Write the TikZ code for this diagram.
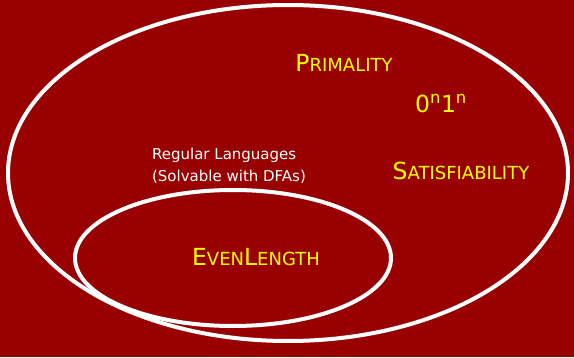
\documentclass[tikz,border=0pt]{standalone}
\usepackage{fontspec}
\setmainfont{DejaVu Sans}
\usetikzlibrary{shapes.geometric}
\definecolor{bgred}{HTML}{990000}
\definecolor{lang}{HTML}{FFFF00}
% fake small caps: large initial, smaller capitals after it
\newcommand{\capbig}[1]{{\fontsize{23.5}{26}\selectfont #1}}
\newcommand{\capsmall}[1]{{\fontsize{18}{20}\selectfont #1}}
\begin{document}
\begin{tikzpicture}[x=1pt,y=1pt,
  setline/.style={ellipse,draw=white,line width=4pt,inner sep=0pt,outer sep=0pt},
  langtext/.style={text=lang,inner sep=0pt},
  classtext/.style={text=white,align=left,inner sep=0pt,font=\fontsize{15}{22}\selectfont}]
  \fill[bgred] (0,0) rectangle (574,357);
  \useasboundingbox (0,0) rectangle (574,357);
  % all decidable languages and the regular ones inside
  \node[setline,minimum width=560pt,minimum height=336pt] (all) at (288,184) {};
  \node[setline,minimum width=316pt,minimum height=136pt] (reg) at (233,99) {};
  % labels
  \node[classtext] (reglabel) at (229,191) {Regular Languages\\(Solvable with DFAs)};
  \node[langtext] (prim) at (344,294) {\capbig{P}\capsmall{RIMALITY}};
  \node[langtext] (onen) at (441,253) {\capbig{0\textsuperscript{n}1\textsuperscript{n}}};
  \node[langtext] (sat) at (461,186) {\capbig{S}\capsmall{ATISFIABILITY}};
  \node[langtext] (even) at (256,100) {\capbig{E}\capsmall{VEN}\capbig{L}\capsmall{ENGTH}};
\end{tikzpicture}
\end{document}
